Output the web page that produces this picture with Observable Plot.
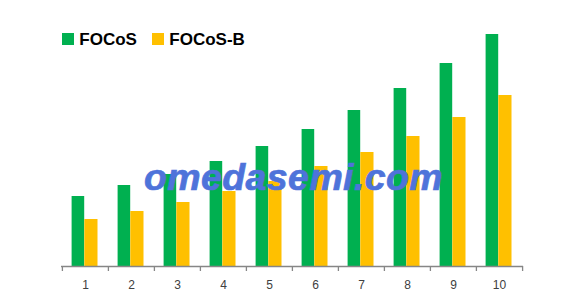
<!DOCTYPE html>
<html><head><meta charset="utf-8">
<script src="https://cdn.jsdelivr.net/npm/d3@7"></script>
<script src="https://cdn.jsdelivr.net/npm/@observablehq/plot@0.6"></script>
<style>
body{margin:0;background:#fff;}
#wrap{position:relative;width:581px;height:303px;font-family:"Liberation Sans",Arial,sans-serif;}
#wrap svg{position:absolute;left:0;top:0;font-family:"Liberation Sans",Arial,sans-serif;}
.leg{position:absolute;top:31.3px;font-size:17px;font-weight:bold;line-height:1;color:#000;white-space:nowrap;}
.sw{position:absolute;top:33px;width:12px;height:12px;}
#wm{position:absolute;left:144px;top:159px;font-size:37.5px;line-height:1;font-weight:bold;font-style:italic;color:#4E73DA;-webkit-text-stroke:0.7px #4E73DA;letter-spacing:0.4px;white-space:nowrap;}
</style></head><body><div id="wrap"></div>
<script>
const categories = ["1","2","3","4","5","6","7","8","9","10"];
const seriesNames = ["FOCoS","FOCoS-B"];
const focos  = [70,81,92,105,120,137,156,178,203,232];
const focosB = [47,55,64,75,85,100,114,130,149,171];
const colors = ["#00B050","#FFC000"];
const watermark = "omedasemi.com";

const dataA = categories.map((c,i)=>({cat:c, value:focos[i], series:seriesNames[0]}));
const dataB = categories.map((c,i)=>({cat:c, value:focosB[i], series:seriesNames[1]}));

const chart = Plot.plot({
  width:581, height:303,
  marginLeft:61, marginRight:58, marginTop:26, marginBottom:37,
  x:{domain:categories, padding:0, label:null},
  y:{domain:[0,240], axis:null},
  marks:[
    Plot.barY(dataA, {x:"cat", y:"value", fill:colors[0], insetLeft:9.6, insetRight:23.8}),
    Plot.barY(dataB, {x:"cat", y:"value", fill:colors[1], insetLeft:22.3, insetRight:10.5}),
    Plot.ruleY([0], {stroke:"#868686", strokeWidth:1.3}),
    Plot.axisX({tickSize:5, text:null, label:null, dx:-23.1, stroke:"#868686", strokeWidth:1.3}),
    Plot.axisX([categories[categories.length-1]], {tickSize:5, text:null, label:null, dx:23.1, stroke:"#868686", strokeWidth:1.3}),
    Plot.axisX({tickSize:0, tickPadding:14, fontSize:12, fill:"#404040", label:null})
  ]
});
const wrap = document.getElementById("wrap");
wrap.appendChild(chart);

const legendX = [[62,79.3],[152.3,169.3]];
seriesNames.forEach((name,i)=>{
  const sw = document.createElement("div");
  sw.className="sw"; sw.style.left=legendX[i][0]+"px"; sw.style.background=colors[i];
  wrap.appendChild(sw);
  const t = document.createElement("div");
  t.className="leg"; t.style.left=legendX[i][1]+"px"; t.textContent=name;
  wrap.appendChild(t);
});
const wm = document.createElement("div");
wm.id="wm"; wm.textContent=watermark;
wrap.appendChild(wm);
</script>
</body></html>
